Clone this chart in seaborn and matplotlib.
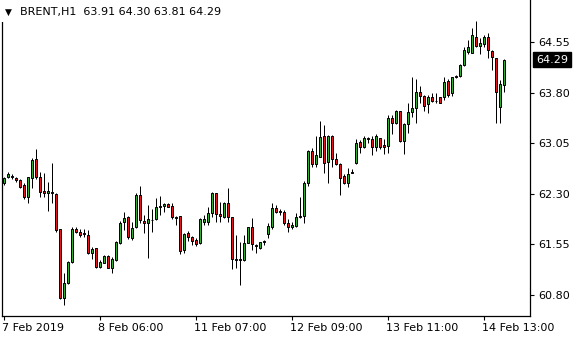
import numpy as np
import pandas as pd
import matplotlib
matplotlib.use("Agg")
import matplotlib.pyplot as plt
import matplotlib.transforms as mtransforms
from matplotlib.patches import Rectangle
import seaborn as sns

symbol = "BRENT,H1"
last_ohlc = [63.91, 64.30, 63.81, 64.29]

opens = [62.46, 62.55, 62.56, 62.54, 62.51, 62.43, 62.25, 62.54, 62.82, 62.55,
         62.34, 62.31, 62.33, 62.30, 61.78, 60.76, 60.98, 61.29, 61.78, 61.74,
         61.72, 61.69, 61.42, 61.50, 61.22, 61.28, 61.38, 61.20, 61.32, 61.57,
         61.88, 61.96, 61.65, 61.81, 62.28, 61.90, 61.87, 61.91, 61.93, 62.11,
         62.12, 62.15, 62.12, 61.96, 61.97, 61.47, 61.72, 61.66, 61.62, 61.57,
         61.88, 61.88, 62.02, 62.31, 62.00, 61.96, 62.16, 61.96, 61.34, 61.32,
         61.32, 61.57, 61.81, 61.54, 61.50, 61.59, 61.71, 61.81, 62.09, 62.03,
         62.03, 61.87, 61.81, 61.82, 61.96, 61.97, 62.46, 62.93, 62.74, 62.85,
         63.16, 62.77, 63.16, 62.82, 62.74, 62.56, 62.46, 62.61, 62.76, 63.07,
         62.99, 63.12, 63.11, 62.99, 63.13, 63.02, 63.01, 63.42, 63.35, 63.53,
         63.08, 63.34, 63.51, 63.57, 63.81, 63.75, 63.63, 63.74, 63.68, 63.74,
         63.74, 63.97, 63.79, 64.03, 64.05, 64.21, 64.40, 64.39, 64.62, 64.49,
         64.52, 64.62, 64.42, 64.31, 63.59, 63.91]

highs = [62.55, 62.62, 62.59, 62.55, 62.52, 62.46, 62.55, 62.83, 62.96, 62.62,
         62.61, 62.48, 62.76, 62.31, 61.78, 61.13, 61.31, 61.81, 61.81, 61.78,
         61.78, 61.76, 61.51, 61.50, 61.32, 61.39, 61.39, 61.36, 61.60, 61.90,
         62.03, 61.97, 61.88, 62.31, 62.42, 61.99, 62.13, 62.08, 62.24, 62.27,
         62.16, 62.16, 62.16, 61.97, 61.97, 61.72, 61.75, 61.68, 61.65, 61.94,
         61.99, 62.11, 62.33, 62.31, 62.18, 62.18, 62.39, 61.96, 61.69, 61.59,
         61.69, 61.81, 61.94, 61.56, 61.59, 61.62, 61.87, 62.16, 62.13, 62.08,
         62.06, 61.93, 61.88, 62.02, 62.25, 62.49, 62.95, 62.98, 63.16, 63.38,
         63.32, 63.17, 63.17, 62.91, 62.76, 62.59, 62.68, 62.67, 63.11, 63.10,
         63.16, 63.14, 63.16, 63.19, 63.13, 63.11, 63.47, 63.47, 63.54, 63.53,
         63.35, 63.65, 64.03, 64.00, 63.90, 63.76, 63.76, 63.79, 63.79, 63.74,
         64.03, 64.00, 64.03, 64.06, 64.22, 64.48, 64.58, 64.76, 64.86, 64.61,
         64.65, 64.68, 64.43, 64.31, 63.99, 64.30]

lows = [62.43, 62.54, 62.52, 62.48, 62.39, 62.22, 62.16, 62.39, 62.52, 62.25,
        62.25, 62.05, 62.16, 61.74, 60.74, 60.65, 60.97, 61.28, 61.72, 61.66,
        61.66, 61.41, 61.34, 61.20, 61.20, 61.28, 61.20, 61.13, 61.31, 61.56,
        61.76, 61.63, 61.62, 61.79, 61.87, 61.72, 61.35, 61.74, 61.91, 61.99,
        62.03, 62.11, 61.93, 61.84, 61.41, 61.42, 61.60, 61.54, 61.53, 61.56,
        61.84, 61.84, 61.96, 61.88, 61.88, 61.94, 61.88, 61.19, 61.20, 60.95,
        61.31, 61.57, 61.47, 61.42, 61.48, 61.54, 61.65, 61.78, 62.02, 61.99,
        61.84, 61.74, 61.78, 61.81, 61.94, 61.87, 62.42, 62.70, 62.70, 62.85,
        62.61, 62.46, 62.70, 62.73, 62.28, 62.45, 62.40, 62.61, 62.74, 62.91,
        62.98, 63.05, 62.88, 62.93, 62.96, 62.89, 62.91, 63.19, 63.34, 63.07,
        62.89, 63.20, 63.44, 63.35, 63.65, 63.53, 63.50, 63.66, 63.65, 63.65,
        63.69, 63.74, 63.75, 64.02, 64.03, 64.19, 64.37, 64.39, 64.48, 64.37,
        64.48, 64.31, 64.14, 63.35, 63.35, 63.81]

closes = [62.54, 62.59, 62.55, 62.51, 62.40, 62.25, 62.55, 62.80, 62.55, 62.33,
          62.31, 62.34, 62.32, 61.76, 60.76, 60.98, 61.29, 61.78, 61.74, 61.69,
          61.71, 61.42, 61.48, 61.22, 61.29, 61.38, 61.20, 61.34, 61.59, 61.87,
          61.94, 61.66, 61.79, 62.28, 61.91, 61.87, 61.93, 61.92, 62.11, 62.12,
          62.15, 62.11, 61.96, 61.94, 61.45, 61.71, 61.66, 61.60, 61.56, 61.93,
          61.93, 62.02, 62.31, 62.00, 61.97, 62.16, 61.96, 61.34, 61.32, 61.34,
          61.57, 61.81, 61.56, 61.53, 61.59, 61.60, 61.82, 62.09, 62.03, 62.04,
          61.87, 61.81, 61.84, 61.96, 61.97, 62.46, 62.93, 62.74, 62.88, 63.14,
          62.76, 63.16, 62.82, 62.74, 62.54, 62.46, 62.59, 62.62, 63.05, 62.99,
          63.13, 63.13, 62.99, 63.16, 62.99, 62.99, 63.42, 63.35, 63.53, 63.08,
          63.34, 63.51, 63.57, 63.81, 63.75, 63.60, 63.74, 63.68, 63.67, 63.65,
          63.96, 63.76, 64.03, 64.04, 64.21, 64.43, 64.48, 64.65, 64.49, 64.54,
          64.62, 64.43, 64.33, 63.81, 63.93, 64.29]

tick_bars = [0, 24, 48, 72, 96, 120]
tick_labels = ["7 Feb 2019", "8 Feb 06:00", "11 Feb 07:00",
               "12 Feb 09:00", "13 Feb 11:00", "14 Feb 13:00"]
price_ticks = [60.80, 61.55, 62.30, 63.05, 63.80, 64.55]

W, H = 580, 340
px_per_unit = 67.5          # vertical pixels per 1.00 of price

df = pd.DataFrame({"bar": np.arange(len(opens)), "open": opens, "high": highs,
                   "low": lows, "close": closes})
df["body_low"] = df[["open", "close"]].min(axis=1)
df["body_h"] = (df["close"] - df["open"]).abs()
bull_col, bear_col = "#2fb12f", "#e8141a"
df["color"] = np.where(df["close"] > df["open"], bull_col,
                       np.where(df["close"] < df["open"], bear_col, "black"))

sns.set_theme(style="white")
plt.rcParams["font.family"] = ["DejaVu Sans"]

fig = plt.figure(figsize=(W / 100, H / 100), dpi=100)
ax = fig.add_axes([2 / W, (H - 316) / H, 528 / W, 316 / H])

ax.set_ylim(64.55 - 274 / px_per_unit, 64.55 + 42 / px_per_unit)
ax.set_xlim(-0.375, -0.375 + 528 / 4)

# wicks
ax.vlines(df["bar"], df["low"], df["high"], color="black", linewidth=0.72, zorder=2)
# bodies: coloured fill, 1 px black outline
ax.bar(df["bar"].to_numpy(), df["body_h"].to_numpy(), bottom=df["body_low"].to_numpy(),
       width=0.5, color=list(df["color"]), edgecolor="black", linewidth=0.72, zorder=3)

for side in ["left", "right", "bottom"]:
    ax.spines[side].set_visible(True)
    ax.spines[side].set_color("black")
    ax.spines[side].set_linewidth(0.9)
ax.spines["top"].set_visible(False)

ax.yaxis.tick_right()
ax.set_yticks(price_ticks)
ax.set_yticklabels([f"{v:.2f}" for v in price_ticks])
ax.tick_params(axis="y", which="major", direction="out", length=3, width=0.8,
               pad=3, labelsize=8, colors="black", right=True, left=False)
ax.set_xticks(tick_bars)
ax.set_xticklabels(tick_labels, ha="left")
ax.tick_params(axis="x", which="major", direction="out", length=3, width=0.8,
               pad=2, labelsize=8, colors="black", bottom=True)
for lbl in ax.get_xticklabels():
    lbl.set_transform(lbl.get_transform() + mtransforms.ScaledTranslation(-2 / 100, 0, fig.dpi_scale_trans))
ax.grid(False)

trans = mtransforms.blended_transform_factory(ax.transAxes, ax.transData)
ax.text(1.0 + 6 / 528, last_ohlc[3], f"{last_ohlc[3]:.2f}", transform=trans,
        color="white", fontsize=8, ha="left", va="center",
        bbox=dict(facecolor="black", edgecolor="black", boxstyle="square,pad=0.25"),
        clip_on=False, zorder=10)

fig.patches.append(Rectangle((0, 1 - 22 / H), 200 / W, 22 / H, transform=fig.transFigure,
                             facecolor="white", edgecolor="none", zorder=5))
fig.text(5 / W, 1 - 12 / H, "▼", fontsize=6.5, color="black", va="center", ha="left", zorder=6)
fig.text(20 / W, 1 - 12 / H, f"{symbol}  " + " ".join(f"{v:.2f}" for v in last_ohlc),
         fontsize=8, color="black", va="center", ha="left", zorder=6)

fig.savefig("out.png", dpi=100, facecolor="white")
